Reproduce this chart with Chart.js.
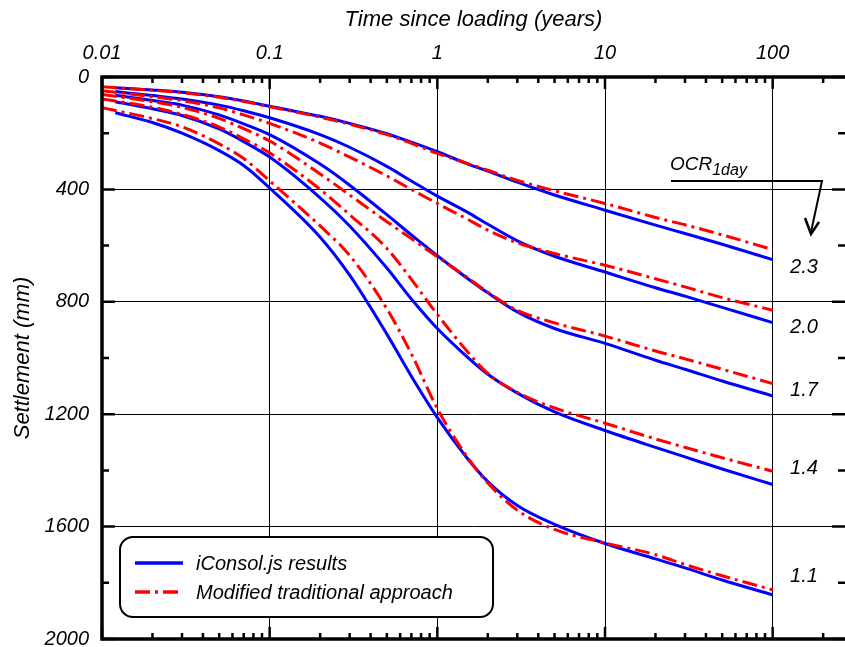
<!DOCTYPE html>
<html lang="en">
<head>
  <meta charset="UTF-8"/>
  <title>Settlement vs time – iConsol.js vs modified traditional approach</title>
  <script src="https://cdn.jsdelivr.net/npm/chart.js"></script>
  <style>
    html, body { margin: 0; padding: 0; background: #fff; }
    canvas { display: block; }
  </style>
</head>
<body>
  <canvas id="settlementChart" width="845" height="647"></canvas>
  <script>
    // time since loading (years)
    const timeIconsol = [0.012, 0.02, 0.03, 0.05, 0.07, 0.1, 0.2, 0.3, 0.5, 0.7, 1, 1.5, 2, 3, 5, 10, 20, 30, 50, 100];
    const timeTraditional = [0.01, 0.02, 0.03, 0.05, 0.07, 0.1, 0.2, 0.3, 0.5, 0.7, 1, 1.5, 2, 3, 5, 10, 20, 30, 50, 100];

    // settlement (mm), one array per OCR_1day
    const iconsol_23 = [38, 46, 54, 70, 85, 104, 140, 165, 202, 232, 266, 308, 335, 374, 420, 474, 527, 557, 595, 650];
    const trad_23    = [35, 47, 56, 72, 87, 106, 143, 168, 205, 236, 272, 307, 332, 368, 405, 450, 500, 526, 562, 614];
    const iconsol_20 = [52, 66, 78, 100, 120, 145, 205, 250, 318, 370, 424, 480, 524, 583, 638, 694, 750, 780, 820, 874];
    const trad_20    = [49, 70, 84, 110, 135, 165, 235, 285, 352, 400, 450, 505, 545, 590, 628, 670, 718, 747, 785, 830];
    const iconsol_17 = [65, 84, 100, 135, 167, 205, 310, 385, 490, 562, 636, 715, 768, 836, 895, 948, 1008, 1040, 1082, 1135];
    const trad_17    = [62, 88, 108, 147, 184, 228, 345, 420, 515, 575, 640, 712, 766, 830, 875, 922, 975, 1003, 1040, 1091];
    const iconsol_14 = [88, 113, 137, 185, 230, 285, 430, 530, 680, 790, 895, 995, 1058, 1125, 1192, 1258, 1318, 1352, 1395, 1450];
    const trad_14    = [78, 108, 133, 178, 220, 270, 400, 490, 610, 720, 845, 975, 1055, 1122, 1178, 1232, 1288, 1318, 1355, 1403];
    const iconsol_11 = [127, 162, 200, 262, 315, 395, 570, 705, 915, 1065, 1212, 1355, 1440, 1525, 1592, 1660, 1715, 1747, 1790, 1843];
    const trad_11    = [109, 148, 177, 238, 290, 370, 530, 635, 825, 985, 1180, 1350, 1445, 1542, 1610, 1658, 1700, 1735, 1775, 1825];

    const ocrValues = ["2.3", "2.0", "1.7", "1.4", "1.1"];
    const seriesNames = ["iConsol.js results", "Modified traditional approach"];

    const xTickValues = [0.01, 0.1, 1, 10, 100];
    const xTickLabels = ["0.01", "0.1", "1", "10", "100"];
    const yTickValues = [0, 400, 800, 1200, 1600, 2000];

    const FONT = "'Liberation Sans', Arial, sans-serif";
    const BLUE = "#0000ff";
    const RED = "#ff0000";

    const iconsolSets = [iconsol_23, iconsol_20, iconsol_17, iconsol_14, iconsol_11];
    const tradSets = [trad_23, trad_20, trad_17, trad_14, trad_11];
    const toPoints = (times, vals) => vals.map((v, i) => ({ x: times[i], y: v }));

    const datasets = [];
    ocrValues.forEach((ocr, k) => {
      datasets.push({
        label: seriesNames[0] + " OCR " + ocr,
        data: toPoints(timeIconsol, iconsolSets[k]),
        borderColor: BLUE, borderWidth: 3,
        pointRadius: 0, fill: false,
        cubicInterpolationMode: "monotone",
        order: 1
      });
      datasets.push({
        label: seriesNames[1] + " OCR " + ocr,
        data: toPoints(timeTraditional, tradSets[k]),
        borderColor: RED, borderWidth: 3,
        borderDash: [15, 5, 3, 5],
        pointRadius: 0, fill: false,
        cubicInterpolationMode: "monotone",
        order: 0
      });
    });

    // frame, inward ticks, legend box and OCR labels
    const decorations = {
      id: "decorations",
      afterDatasetsDraw(chart) {
        const { ctx, chartArea: a, scales: { x, y } } = chart;
        ctx.save();
        ctx.strokeStyle = "#000";
        ctx.fillStyle = "#000";

        // tick marks pointing into the plot
        ctx.lineWidth = 2.5;
        ctx.beginPath();
        for (let e = -2; e <= 2; e++) {
          for (let m = 1; m <= 9; m++) {
            const v = m * Math.pow(10, e);
            if (v > x.max) continue;
            const px = x.getPixelForValue(v);
            const len = m === 1 ? 12 : 6;
            ctx.moveTo(px, a.top); ctx.lineTo(px, a.top + len);
            ctx.moveTo(px, a.bottom); ctx.lineTo(px, a.bottom - len);
          }
        }
        for (let v = 0; v <= 2000; v += 200) {
          const py = y.getPixelForValue(v);
          const len = v % 400 === 0 ? 13 : 7;
          ctx.moveTo(a.left, py); ctx.lineTo(a.left + len, py);
          ctx.moveTo(a.right, py); ctx.lineTo(a.right - len, py);
        }
        ctx.stroke();

        // frame: the right edge falls outside the picture
        ctx.lineWidth = 3.5;
        ctx.beginPath();
        ctx.moveTo(a.right + 2, a.top);
        ctx.lineTo(a.left, a.top);
        ctx.lineTo(a.left, a.bottom);
        ctx.lineTo(a.right + 2, a.bottom);
        ctx.stroke();

        // legend
        const bx = 120, by = 537, bw = 373, bh = 80, r = 13;
        ctx.beginPath();
        ctx.moveTo(bx + r, by);
        ctx.arcTo(bx + bw, by, bx + bw, by + bh, r);
        ctx.arcTo(bx + bw, by + bh, bx, by + bh, r);
        ctx.arcTo(bx, by + bh, bx, by, r);
        ctx.arcTo(bx, by, bx + bw, by, r);
        ctx.closePath();
        ctx.fillStyle = "#fff";
        ctx.fill();
        ctx.lineWidth = 2;
        ctx.stroke();

        const rows = [
          { name: seriesNames[0], color: BLUE, dash: [], y: 563 },
          { name: seriesNames[1], color: RED, dash: [15, 5, 3, 5], y: 592 }
        ];
        ctx.font = "italic 20px " + FONT;
        ctx.textBaseline = "middle";
        ctx.textAlign = "left";
        rows.forEach(row => {
          ctx.beginPath();
          ctx.setLineDash(row.dash);
          ctx.strokeStyle = row.color;
          ctx.lineWidth = 3.5;
          ctx.moveTo(135, row.y); ctx.lineTo(183, row.y);
          ctx.stroke();
          ctx.setLineDash([]);
          ctx.fillStyle = "#000";
          ctx.fillText(row.name, 196, row.y + 1);
        });

        // OCR_1day annotation with arrow
        ctx.fillStyle = "#000";
        ctx.strokeStyle = "#000";
        ctx.textBaseline = "alphabetic";
        ctx.font = "italic 19px " + FONT;
        ctx.fillText("OCR", 670, 170);
        const ocrW = ctx.measureText("OCR").width;
        ctx.font = "italic 16px " + FONT;
        ctx.fillText("1day", 670 + ocrW, 175);

        ctx.lineWidth = 2;
        ctx.beginPath();
        ctx.moveTo(671, 181); ctx.lineTo(822, 181); ctx.lineTo(811, 232);
        ctx.stroke();
        ctx.lineWidth = 2.5;
        ctx.beginPath();
        ctx.moveTo(805, 218); ctx.lineTo(811, 234); ctx.lineTo(819, 222);
        ctx.stroke();

        // OCR value labels at the right-hand ends
        const labelY = [267, 327, 390, 468, 576];
        ctx.font = "italic 20px " + FONT;
        ctx.textAlign = "center";
        ctx.textBaseline = "middle";
        ocrValues.forEach((ocr, k) => ctx.fillText(ocr, 804, labelY[k]));

        ctx.restore();
      }
    };

    const tickFont = { family: FONT, size: 20, style: "italic" };
    const titleFont = { family: FONT, size: 22, style: "italic" };

    new Chart(document.getElementById("settlementChart"), {
      type: "line",
      data: { datasets },
      options: {
        responsive: false,
        animation: false,
        devicePixelRatio: 1,
        layout: { padding: { left: 0, right: 0, top: 0, bottom: 8 } },
        plugins: { legend: { display: false }, tooltip: { enabled: false } },
        scales: {
          x: {
            type: "logarithmic",
            position: "top",
            min: 0.01,
            max: 270,
            bounds: "data",
            afterBuildTicks: s => { s.ticks = xTickValues.map(v => ({ value: v })); },
            afterFit: s => { s.height = 77; s.paddingLeft = 0; s.paddingRight = 0; },
            ticks: {
              autoSkip: false, maxRotation: 0, padding: 12,
              color: "#000", font: tickFont,
              callback: (v, i) => xTickLabels[i]
            },
            grid: { color: "#000", lineWidth: 1, drawTicks: false },
            border: { display: false },
            title: {
              display: true, text: "Time since loading (years)",
              color: "#000", font: titleFont, padding: { top: 7, bottom: 0 }
            }
          },
          y: {
            type: "linear",
            reverse: true,
            min: 0,
            max: 2000,
            afterBuildTicks: s => { s.ticks = yTickValues.map(v => ({ value: v })); },
            afterFit: s => { s.width = 102; s.paddingTop = 0; s.paddingBottom = 0; },
            ticks: { padding: 13, color: "#000", font: tickFont, callback: v => String(v) },
            grid: { color: "#000", lineWidth: 1, drawTicks: false },
            border: { display: false },
            title: {
              display: true, text: "Settlement (mm)",
              color: "#000", font: titleFont, padding: { top: 10, bottom: 0 }
            }
          }
        }
      },
      plugins: [decorations]
    });
  </script>
</body>
</html>
